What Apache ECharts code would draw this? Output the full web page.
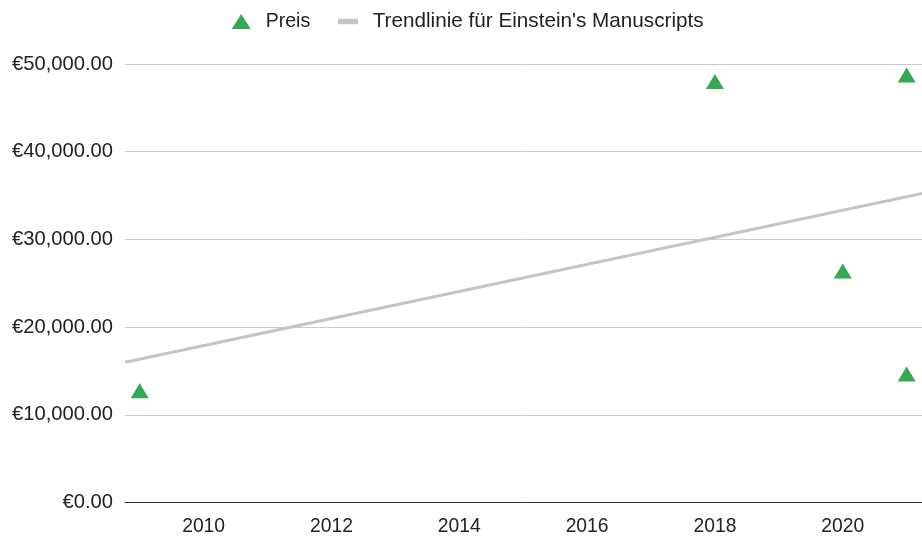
<!DOCTYPE html>
<html><head><meta charset="utf-8">
<script src="https://cdn.jsdelivr.net/npm/echarts@6/dist/echarts.min.js"></script>
<style>html,body{margin:0;padding:0;background:#fff}#c{width:922px;height:536px}</style>
</head><body><div id="c"></div>
<script>
const years = [2009, 2018, 2020, 2021, 2021];
const prices = [12750, 48000, 26400, 48750, 14650];
const trendYears = [2008.77, 2021.24];
const trendValues = [16000, 35250];
const xTickLabels = [2010, 2012, 2014, 2016, 2018, 2020];
const yTicks = [0, 10000, 20000, 30000, 40000, 50000];
const seriesNames = ['Preis', "Trendlinie für Einstein's Manuscripts"];

const font = '"Liberation Sans", Arial, sans-serif';
const chart = echarts.init(document.getElementById('c'));
chart.setOption({
  animation: false,
  backgroundColor: '#fff',
  textStyle: { fontFamily: font },
  legend: [
    { data: [{ name: seriesNames[0], icon: 'triangle' }], left: 231.7, top: 10.5, padding: 0,
      itemWidth: 19, itemHeight: 15, itemGap: 0,
      itemStyle: { color: '#34a853', opacity: 1 },
      textStyle: { fontFamily: font, fontSize: 19.5, lineHeight: 20, color: '#222', padding: [2, 0, 0, 10] } },
    { data: [{ name: seriesNames[1], icon: 'rect' }], left: 338, top: 10.5, padding: 0,
      itemWidth: 20, itemHeight: 5.5, itemGap: 0,
      textStyle: { fontFamily: font, fontSize: 20.7, lineHeight: 20, color: '#222', padding: [2, 0, 0, 9.7] } }
  ],
  grid: { left: 125, right: 0, top: 64, bottom: 32, containLabel: false },
  xAxis: {
    type: 'value', min: trendYears[0], max: trendYears[1],
    axisLine: { show: true, lineStyle: { color: '#333', width: 1 } },
    axisTick: { show: false },
    splitLine: { show: false },
    axisLabel: {
      margin: 14.5, fontSize: 19.3, color: '#222', fontFamily: font,
      showMinLabel: false, showMaxLabel: false,
      formatter: v => xTickLabels.includes(Math.round(v * 1000) / 1000) ? String(v) : ''
    }
  },
  yAxis: {
    type: 'value', min: yTicks[0], max: yTicks[yTicks.length - 1], interval: 10000,
    axisLine: { show: false }, axisTick: { show: false },
    splitLine: { lineStyle: { color: '#cccccc', width: 1 } },
    axisLabel: {
      margin: 12, fontSize: 20.2, color: '#222', fontFamily: font, padding: [4, 0, 0, 0],
      formatter: v => '€' + v.toLocaleString('en-US', { minimumFractionDigits: 2, maximumFractionDigits: 2 })
    }
  },
  series: [
    {
      name: seriesNames[0], type: 'scatter', symbol: 'triangle', symbolSize: [18, 15],
      itemStyle: { color: '#34a853', opacity: 1 },
      data: years.map((y, i) => [y, prices[i]]), z: 3
    },
    {
      name: seriesNames[1], type: 'line', symbol: 'none',
      lineStyle: { color: '#c4c4c4', width: 3 }, itemStyle: { color: '#c4c4c4' },
      data: trendYears.map((y, i) => [y, trendValues[i]]), z: 2
    }
  ]
});
</script></body></html>
